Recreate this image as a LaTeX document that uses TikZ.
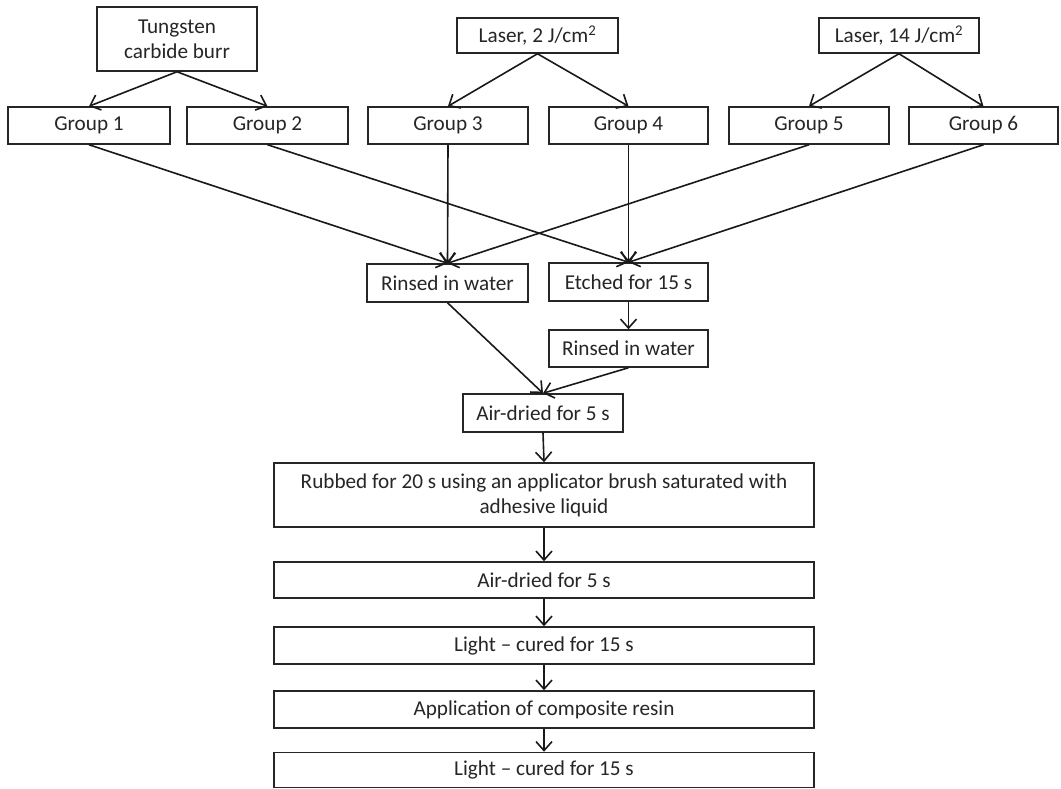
\documentclass[tikz,border=0pt]{standalone}
\usepackage{fontspec}
\setmainfont{Carlito}
\usetikzlibrary{arrows.meta}
\begin{document}
\begin{tikzpicture}[x=1pt,y=-1pt,
  box/.style={draw=black!85,line width=1.5pt,fill=white,inner sep=2pt,align=center,
    font=\fontsize{21.2}{25}\selectfont,text=black!85},
  arr/.style={draw=black!90,line width=1.6pt,-{Straight Barb[length=9pt,width=16pt,line width=1.6pt]}}]
\useasboundingbox (0,0) rectangle (1061,789);
\node[box,minimum width=160pt,minimum height=64pt] (tcb) at (177,39) {Tungsten\\carbide burr};
\node[box,minimum width=161pt,minimum height=35pt] (l2) at (537.5,35.5) {Laser, 2 J/cm\textsuperscript{2}};
\node[box,minimum width=160pt,minimum height=35pt] (l14) at (899,35.5) {Laser, 14 J/cm\textsuperscript{2}};
\node[box,minimum width=162pt,minimum height=37pt] (g1) at (89,125.5) {Group 1};
\node[box,minimum width=161pt,minimum height=37pt] (g2) at (267.5,125.5) {Group 2};
\node[box,minimum width=160pt,minimum height=37pt] (g3) at (448,125.5) {Group 3};
\node[box,minimum width=159pt,minimum height=37pt] (g4) at (628.5,125.5) {Group 4};
\node[box,minimum width=160pt,minimum height=37pt] (g5) at (809,125.5) {Group 5};
\node[box,minimum width=149pt,minimum height=37pt] (g6) at (983.5,125.5) {Group 6};
\node[box,minimum width=161pt,minimum height=38pt] (r1) at (447.5,283) {Rinsed in water};
\node[box,minimum width=159pt,minimum height=38pt] (e1) at (628.5,282) {Etched for 15 s};
\node[box,minimum width=159pt,minimum height=37pt] (r2) at (628.5,348.5) {Rinsed in water};
\node[box,minimum width=160pt,minimum height=38pt] (ad1) at (543,413) {Air-dried for 5 s};
\node[box,minimum width=540pt,minimum height=64pt] (rub) at (544,495) {Rubbed for 20 s using an applicator brush saturated with\\adhesive liquid};
\node[box,minimum width=540pt,minimum height=36pt] (ad2) at (544,580) {Air-dried for 5 s};
\node[box,minimum width=540pt,minimum height=37pt] (lc1) at (544,645.5) {Light -- cured for 15 s};
\node[box,minimum width=540pt,minimum height=37pt] (app) at (544,709.5) {Application of composite resin};
\node[box,minimum width=540pt,minimum height=35pt] (lc2) at (544,770) {Light -- cured for 15 s};
\draw[arr] (tcb.south) -- (g1.north);
\draw[arr] (tcb.south) -- (g2.north);
\draw[arr] (l2.south) -- (g3.north);
\draw[arr] (l2.south) -- (g4.north);
\draw[arr] (l14.south) -- (g5.north);
\draw[arr] (l14.south) -- (g6.north);
\draw[arr] (g1.south) -- (r1.north);
\draw[arr] (g3.south) -- (r1.north);
\draw[arr] (g5.south) -- (r1.north);
\draw[arr] (g2.south) -- (e1.north);
\draw[arr] (g4.south) -- (e1.north);
\draw[arr] (g6.south) -- (e1.north);
\draw[arr] (e1.south) -- (r2.north);
\draw[arr] (r1.south) -- (ad1.north);
\draw[arr] (r2.south) -- (ad1.north);
\draw[arr] (ad1.south) -- (rub.north);
\draw[arr] (rub.south) -- (ad2.north);
\draw[arr] (ad2.south) -- (lc1.north);
\draw[arr] (lc1.south) -- (app.north);
\draw[arr] (app.south) -- (lc2.north);
\end{tikzpicture}
\end{document}
